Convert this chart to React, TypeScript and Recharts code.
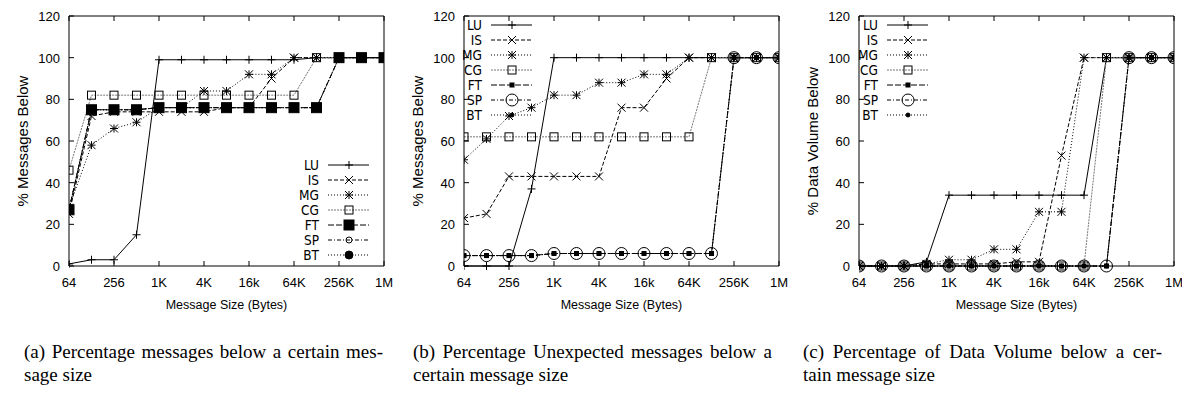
import React from 'react';
import { LineChart, Line, XAxis, YAxis, Legend } from 'recharts';

// message size buckets in bytes, 64 B .. 1 MB
const messageSizes = [64, 128, 256, 512, 1024, 2048, 4096, 8192, 16384, 32768, 65536, 131072, 262144, 524288, 1048576];
const xTickValues = [64, 256, 1024, 4096, 16384, 65536, 262144, 1048576];
const xTickLabels = ['64', '256', '1K', '4K', '16k', '64K', '256K', '1M'];
const yTickValues = [0, 20, 40, 60, 80, 100, 120];
const benchmarks = ['LU', 'IS', 'MG', 'CG', 'FT', 'SP', 'BT'];

// (a) cumulative % of all messages
const msgLU = [1, 3, 3, 15, 99, 99, 99, 99, 99, 99, 99, 100, 100, 100, 100];
const msgIS = [25, 72, 74, 74, 74, 74, 74, 76, 76, 90, 100, 100, 100, 100, 100];
const msgMG = [28, 58, 66, 69, 76, 76, 84, 84, 92, 92, 100, 100, 100, 100, 100];
const msgCG = [46, 82, 82, 82, 82, 82, 82, 82, 82, 82, 82, 100, 100, 100, 100];
const msgFT = [27, 75, 75, 75, 76, 76, 76, 76, 76, 76, 76, 76, 100, 100, 100];
const msgSP = [27, 75, 75, 75, 76, 76, 76, 76, 76, 76, 76, 76, 100, 100, 100];
const msgBT = [27, 75, 75, 75, 76, 76, 76, 76, 76, 76, 76, 76, 100, 100, 100];

// (b) cumulative % of unexpected messages
const unxLU = [0, 0, 0, 37, 100, 100, 100, 100, 100, 100, 100, 100, 100, 100, 100];
const unxIS = [23, 25, 43, 43, 43, 43, 43, 76, 76, 90, 100, 100, 100, 100, 100];
const unxMG = [51, 61, 72, 76, 82, 82, 88, 88, 92, 92, 100, 100, 100, 100, 100];
const unxCG = [62, 62, 62, 62, 62, 62, 62, 62, 62, 62, 62, 100, 100, 100, 100];
const unxFT = [5, 5, 5, 5, 6, 6, 6, 6, 6, 6, 6, 6, 100, 100, 100];
const unxSP = [5, 5, 5, 5, 6, 6, 6, 6, 6, 6, 6, 6, 100, 100, 100];
const unxBT = [5, 5, 5, 5, 6, 6, 6, 6, 6, 6, 6, 6, 100, 100, 100];

// (c) cumulative % of data volume
const volLU = [0, 0, 0, 2, 34, 34, 34, 34, 34, 34, 34, 100, 100, 100, 100];
const volIS = [0, 0, 0, 1, 1, 1, 1, 2, 2, 53, 100, 100, 100, 100, 100];
const volMG = [0, 0, 0, 1, 3, 3, 8, 8, 26, 26, 100, 100, 100, 100, 100];
const volCG = [0, 0, 0, 0, 0, 0, 0, 0, 0, 0, 0, 100, 100, 100, 100];
const volFT = [0, 0, 0, 0, 0, 0, 0, 0, 0, 0, 0, 0, 100, 100, 100];
const volSP = [0, 0, 0, 0, 0, 0, 0, 0, 0, 0, 0, 0, 100, 100, 100];
const volBT = [0, 0, 0, 0, 0, 0, 0, 0, 0, 0, 0, 0, 100, 100, 100];

const buildRows = (series: number[][]) =>
  messageSizes.map((size, i) => {
    const row: Record<string, number> = { size };
    benchmarks.forEach((b, k) => {
      row[b] = series[k][i];
    });
    return row;
  });

const msgRows = buildRows([msgLU, msgIS, msgMG, msgCG, msgFT, msgSP, msgBT]);
const unxRows = buildRows([unxLU, unxIS, unxMG, unxCG, unxFT, unxSP, unxBT]);
const volRows = buildRows([volLU, volIS, volMG, volCG, volFT, volSP, volBT]);

type Mark = 'plus' | 'cross' | 'star' | 'box' | 'fbox' | 'circle' | 'fcircle';

const lineLook: Record<string, { stroke: string; dash?: string; mark: Mark }> = {
  LU: { stroke: '#000', mark: 'plus' },
  IS: { stroke: '#000', dash: '4 2', mark: 'cross' },
  MG: { stroke: '#000', dash: '1 2', mark: 'star' },
  CG: { stroke: '#777', dash: '2 1', mark: 'box' },
  FT: { stroke: '#000', dash: '6 2', mark: 'fbox' },
  SP: { stroke: '#000', dash: '4 2 1 2', mark: 'circle' },
  BT: { stroke: '#000', dash: '1 2', mark: 'fcircle' },
};

const marksA: Record<string, number> = { LU: 4, IS: 4, MG: 4, CG: 4, FT: 5, SP: 3, BT: 4 };
const marksBC: Record<string, number> = { LU: 4, IS: 4, MG: 4, CG: 4, FT: 2, SP: 6, BT: 2 };

const FONT = '"Liberation Sans", Arial, sans-serif';
const NARROW = '"Liberation Sans Narrow", "DejaVu Sans Condensed", "Liberation Sans", sans-serif';

function Marker({ kind, cx, cy, r }: { kind: Mark; cx: number; cy: number; r: number }) {
  if (cx == null || cy == null) return null;
  switch (kind) {
    case 'plus':
      return <path d={`M${cx - r},${cy}H${cx + r}M${cx},${cy - r}V${cy + r}`} stroke="#000" fill="none" />;
    case 'cross':
      return (
        <path
          d={`M${cx - r},${cy - r}L${cx + r},${cy + r}M${cx - r},${cy + r}L${cx + r},${cy - r}`}
          stroke="#000"
          fill="none"
        />
      );
    case 'star':
      return (
        <path
          d={`M${cx - r},${cy}H${cx + r}M${cx},${cy - r}V${cy + r}M${cx - r},${cy - r}L${cx + r},${cy + r}M${cx - r},${cy + r}L${cx + r},${cy - r}`}
          stroke="#000"
          fill="none"
        />
      );
    case 'box':
      return <rect x={cx - r} y={cy - r} width={2 * r} height={2 * r} stroke="#000" fill="none" />;
    case 'fbox':
      return <rect x={cx - r} y={cy - r} width={2 * r} height={2 * r} stroke="#000" fill="#000" />;
    case 'circle':
      return <circle cx={cx} cy={cy} r={r} stroke="#000" fill="none" />;
    default:
      return <circle cx={cx} cy={cy} r={r} stroke="#000" fill="#000" />;
  }
}

// gnuplot-style inward ticks on all four sides
const BottomTick = (p: any) => (
  <g>
    <line x1={p.x} x2={p.x} y1={p.y - 8} y2={p.y - 13} stroke="#000" />
    <text x={p.x} y={p.y + 13} textAnchor="middle" fontSize={13} fontFamily={FONT} fill="#000">
      {xTickLabels[xTickValues.indexOf(p.payload.value)]}
    </text>
  </g>
);
const TopTick = (p: any) => <line x1={p.x} x2={p.x} y1={p.y + 8} y2={p.y + 13} stroke="#000" />;
const LeftTick = (p: any) => (
  <g>
    <line x1={p.x + 8} x2={p.x + 13} y1={p.y} y2={p.y} stroke="#000" />
    <text x={p.x - 1} y={p.y + 5} textAnchor="end" fontSize={13} fontFamily={FONT} fill="#000">
      {p.payload.value}
    </text>
  </g>
);
const RightTick = (p: any) => <line x1={p.x - 8} x2={p.x - 13} y1={p.y} y2={p.y} stroke="#000" />;

// rotated y title centred on the plot height
const YTitle = ({ viewBox, text }: any) => {
  const cx = viewBox.x + 15;
  const cy = viewBox.y + viewBox.height / 2;
  return (
    <text
      x={cx}
      y={cy}
      transform={`rotate(-90, ${cx}, ${cy})`}
      textAnchor="middle"
      dy="0.35em"
      fontSize={15}
      fontFamily={FONT}
      fill="#000"
    >
      {text}
    </text>
  );
};

function KeyBox({ payload, marks, right }: { payload?: any[]; marks: Record<string, number>; right: number }) {
  const entries = [...(payload || [])].sort(
    (a, b) => benchmarks.indexOf(String(a.dataKey)) - benchmarks.indexOf(String(b.dataKey)),
  );
  return (
    <svg width={right + 60} height={112} style={{ overflow: 'visible' }}>
      {entries.map((entry, i) => {
        const name = String(entry.dataKey);
        const look = lineLook[name];
        const y = 8 + i * 15;
        return (
          <g key={name}>
            <text x={right} y={y + 5} textAnchor="end" fontSize={13.5} fontFamily={NARROW} fill="#000">
              {entry.value}
            </text>
            <line x1={right + 9} x2={right + 50} y1={y} y2={y} stroke={look.stroke} strokeDasharray={look.dash} />
            <Marker kind={look.mark} cx={right + 30} cy={y} r={marks[name]} />
          </g>
        );
      })}
    </svg>
  );
}

interface PanelProps {
  rows: Record<string, number>[];
  yTitle: string;
  marks: Record<string, number>;
  keyTop: number;
  keyRight: number;
}

function Panel({ rows, yTitle, marks, keyTop, keyRight }: PanelProps) {
  return (
    <LineChart width={394} height={320} data={rows} margin={{ top: 15, right: 9, bottom: 0, left: 8 }}>
      <XAxis
        dataKey="size"
        type="number"
        scale="log"
        domain={[64, 1048576]}
        allowDataOverflow
        ticks={xTickValues}
        interval={0}
        height={54}
        tickSize={8}
        tickMargin={0}
        tickLine={false}
        axisLine={{ stroke: '#000' }}
        tick={<BottomTick />}
        label={{
          value: 'Message Size (Bytes)',
          position: 'insideBottom',
          offset: 11,
          style: { fontSize: 12.5, fontFamily: FONT, fill: '#000' },
        }}
      />
      <XAxis
        xAxisId="top"
        orientation="top"
        dataKey="size"
        type="number"
        scale="log"
        domain={[64, 1048576]}
        allowDataOverflow
        ticks={xTickValues}
        interval={0}
        height={1}
        tickSize={8}
        tickMargin={0}
        tickLine={false}
        axisLine={{ stroke: '#000' }}
        tick={<TopTick />}
      />
      <YAxis
        type="number"
        domain={[0, 120]}
        ticks={yTickValues}
        interval={0}
        width={61}
        tickSize={8}
        tickMargin={0}
        tickLine={false}
        axisLine={{ stroke: '#000' }}
        tick={<LeftTick />}
        label={{ content: (props: any) => <YTitle viewBox={props.viewBox} text={yTitle} /> }}
      />
      <YAxis
        yAxisId="right"
        orientation="right"
        type="number"
        domain={[0, 120]}
        ticks={yTickValues}
        interval={0}
        width={1}
        tickSize={8}
        tickMargin={0}
        tickLine={false}
        axisLine={{ stroke: '#000' }}
        tick={<RightTick />}
      />
      <Legend
        layout="vertical"
        align="center"
        verticalAlign="middle"
        wrapperStyle={{ left: 0, top: keyTop, width: keyRight + 60 }}
        content={(props: any) => <KeyBox payload={props.payload} marks={marks} right={keyRight} />}
      />
      {benchmarks.map((name) => {
        const look = lineLook[name];
        return (
          <Line
            key={name}
            dataKey={name}
            name={name}
            stroke={look.stroke}
            strokeWidth={1}
            strokeDasharray={look.dash}
            isAnimationActive={false}
            activeDot={false}
            dot={(d: any) => <Marker key={`${name}-${d.index}`} kind={look.mark} cx={d.cx} cy={d.cy} r={marks[name]} />}
          />
        );
      })}
    </LineChart>
  );
}

const captionStyle: React.CSSProperties = {
  position: 'absolute',
  width: 359,
  fontFamily: '"Liberation Serif", "Times New Roman", serif',
  fontSize: 19,
  lineHeight: '23px',
  color: '#000',
};

function Caption({ left, first, second }: { left: number; first: string; second: string }) {
  return (
    <div style={{ ...captionStyle, left, top: 340 }}>
      <div style={{ textAlign: 'justify', textAlignLast: 'justify', whiteSpace: 'nowrap' }}>{first}</div>
      <div>{second}</div>
    </div>
  );
}

export default function App() {
  return (
    <div style={{ position: 'relative', width: 1182, height: 394, background: '#fff', overflow: 'hidden' }}>
      <style>{'body{margin:0;}'}</style>
      <div style={{ position: 'absolute', left: 0, top: 0 }}>
        <Panel rows={msgRows} yTitle="% Messages Below" marks={marksA} keyTop={157} keyRight={319} />
      </div>
      <div style={{ position: 'absolute', left: 395, top: 0 }}>
        <Panel rows={unxRows} yTitle="% Messages Below" marks={marksBC} keyTop={17} keyRight={87} />
      </div>
      <div style={{ position: 'absolute', left: 790, top: 0 }}>
        <Panel rows={volRows} yTitle="% Data Volume Below" marks={marksBC} keyTop={17} keyRight={88} />
      </div>
      <Caption left={24} first="(a) Percentage messages below a certain mes-" second="sage size" />
      <Caption left={413} first="(b) Percentage Unexpected messages below a" second="certain message size" />
      <Caption left={803} first="(c) Percentage of Data Volume below a cer-" second="tain message size" />
    </div>
  );
}
